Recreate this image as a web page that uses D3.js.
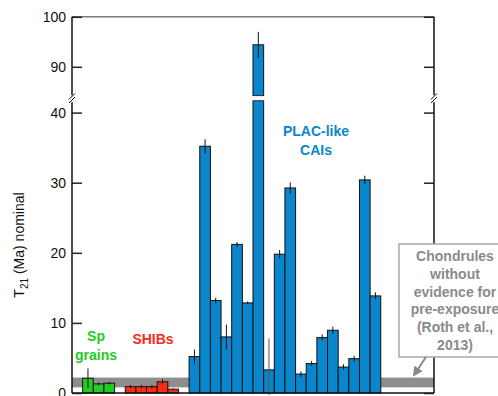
<!DOCTYPE html>
<html>
<head>
<meta charset="utf-8">
<script src="https://cdn.jsdelivr.net/npm/d3@7"></script>
<style>
  body { margin: 0; background: #fff; }
  text { font-family: "Liberation Sans", Arial, sans-serif; }
</style>
</head>
<body>
<svg id="chart" width="498" height="396"></svg>
<script>
// Data
const spValues = [2.1, 1.3, 1.4];
const spErrors = [1.4, 0.2, 0.2];
const shibValues = [0.9, 0.9, 0.9, 1.6, 0.55];
const shibErrors = [0.25, 0.25, 0.25, 0.35, 0.1];
const placValues = [5.2, 35.2, 13.2, 8.0, 21.2, 12.85, 94.4, 3.3, 19.8, 29.25, 2.7, 4.2, 7.9, 8.95, 3.7, 4.9, 30.4, 13.85];
const placErrors = [1.0, 1.0, 0.4, 1.75, 0.35, 0.2, 2.6, 4.5, 0.6, 0.8, 0.4, 0.35, 0.45, 0.5, 0.4, 0.4, 0.6, 0.5];
const chondruleBand = [0.8, 2.2];
const lowTicks = [0, 10, 20, 30, 40];
const highTicks = [90, 100];

const colors = { sp: "#22cc22", shib: "#ff2a14", plac: "#0a86cc" };

// build slots (empty slots make the gaps between groups)
const slots = [];
let gap = 0;
const addGap = () => slots.push({ id: "gap" + (gap++), value: null });
addGap();
spValues.forEach((v, i) => slots.push({ id: "sp" + i, value: v, err: spErrors[i], color: colors.sp }));
addGap();
shibValues.forEach((v, i) => slots.push({ id: "shib" + i, value: v, err: shibErrors[i], color: colors.shib }));
addGap();
placValues.forEach((v, i) => slots.push({ id: "plac" + i, value: v, err: placErrors[i], color: colors.plac }));
for (let i = 0; i < 5; i++) addGap();

const bars = slots.filter(d => d.value !== null);

const left = 72, right = 434;
const loMax = 41.7, hiMin = 84.2;

const x = d3.scaleBand()
  .domain(slots.map(d => d.id))
  .range([left, right])
  .padding(0);

const yLo = d3.scaleLinear().domain([0, 40]).range([393, 112.6]);
const yHi = d3.scaleLinear().domain([90, 100]).range([66.8, 16.8]);

const svg = d3.select("#chart");

// chondrule band behind the bars
svg.append("rect")
  .attr("x", left)
  .attr("y", yLo(chondruleBand[1]))
  .attr("width", right - left)
  .attr("height", yLo(chondruleBand[0]) - yLo(chondruleBand[1]))
  .attr("fill", "#8e8e8e");

// bars - lower segment
svg.selectAll(".bar-lo")
  .data(bars)
  .enter()
  .append("rect")
  .attr("class", "bar-lo")
  .attr("x", d => x(d.id))
  .attr("y", d => yLo(Math.min(d.value, loMax)))
  .attr("width", x.bandwidth())
  .attr("height", d => yLo(0) - yLo(Math.min(d.value, loMax)))
  .attr("fill", d => d.color)
  .attr("stroke", "#111")
  .attr("stroke-width", 1);

// bars - upper segment (only the tall one)
const tall = bars.filter(d => d.value > hiMin);
svg.selectAll(".bar-hi")
  .data(tall)
  .enter()
  .append("rect")
  .attr("class", "bar-hi")
  .attr("x", d => x(d.id))
  .attr("y", d => yHi(d.value))
  .attr("width", x.bandwidth())
  .attr("height", d => yHi(hiMin) - yHi(d.value))
  .attr("fill", d => d.color)
  .attr("stroke", "#111")
  .attr("stroke-width", 1);
// hide the stroke across the break
svg.selectAll(".bar-gap")
  .data(tall)
  .enter()
  .append("rect")
  .attr("x", d => x(d.id) - 1)
  .attr("y", yHi(hiMin) + 0.5)
  .attr("width", x.bandwidth() + 2)
  .attr("height", yLo(loMax) - yHi(hiMin) - 1)
  .attr("fill", "#fff");

// error bars
const yOf = v => v > hiMin ? yHi(v) : yLo(Math.max(v, 0));
svg.selectAll(".err")
  .data(bars)
  .enter()
  .append("line")
  .attr("class", "err")
  .attr("x1", d => x(d.id) + x.bandwidth() / 2)
  .attr("x2", d => x(d.id) + x.bandwidth() / 2)
  .attr("y1", d => yOf(d.value + d.err))
  .attr("y2", d => yOf(d.value - d.err) + (d.value - d.err < 0 ? 2 : 0))
  .attr("stroke", d => d.err > 3 ? "#555" : "#111")
  .attr("stroke-width", 1);

// frame: top line
svg.append("line")
  .attr("x1", left).attr("x2", right)
  .attr("y1", yHi(100)).attr("y2", yHi(100))
  .attr("stroke", "#7a7a7a").attr("stroke-width", 1.5);
// bottom line
svg.append("line")
  .attr("x1", left).attr("x2", right)
  .attr("y1", yLo(0)).attr("y2", yLo(0))
  .attr("stroke", "#111").attr("stroke-width", 1.5);

// left & right axes (ticks pointing inward)
function drawAxis(xPos, isLeft) {
  const gLo = svg.append("g").attr("transform", `translate(${xPos},0)`);
  const gHi = svg.append("g").attr("transform", `translate(${xPos},0)`);
  const mk = isLeft ? d3.axisLeft : d3.axisRight;
  gLo.call(mk(yLo).tickValues(lowTicks).tickSize(-10).tickPadding(6)
    .tickFormat(isLeft ? d3.format("d") : () => ""));
  gHi.call(mk(yHi).tickValues(highTicks).tickSize(-10).tickPadding(6)
    .tickFormat(isLeft ? d3.format("d") : () => ""));
  [gLo, gHi].forEach(g => {
    g.select(".domain").remove();
    g.selectAll(".tick line").attr("stroke", "#222").attr("stroke-width", 1.5);
    g.selectAll(".tick text")
      .attr("font-size", "14px")
      .attr("font-family", "'Liberation Sans', Arial, sans-serif")
      .attr("fill", "#111");
  });
  // axis line in two pieces around the break
  svg.append("line")
    .attr("x1", xPos).attr("x2", xPos)
    .attr("y1", yHi(100)).attr("y2", yHi(hiMin) - 0.5)
    .attr("stroke", "#111").attr("stroke-width", 1.5);
  svg.append("line")
    .attr("x1", xPos).attr("x2", xPos)
    .attr("y1", yLo(loMax) + 1.5).attr("y2", yLo(0))
    .attr("stroke", "#111").attr("stroke-width", 1.5);
  // break marks //
  const yb = (yHi(hiMin) + yLo(loMax)) / 2;
  [-1.8, 1.8].forEach(off => {
    svg.append("line")
      .attr("x1", xPos - 3).attr("x2", xPos + 3)
      .attr("y1", yb + off + 3).attr("y2", yb + off - 3)
      .attr("stroke", "#111").attr("stroke-width", 1);
  });
}
drawAxis(left, true);

// annotation box (drawn before right axis lower part is covered)
drawAxis(right, false);

const boxX = 399, boxY = 244;
svg.append("rect")
  .attr("x", boxX).attr("y", boxY)
  .attr("width", 120).attr("height", 113)
  .attr("fill", "#fff")
  .attr("stroke", "#a8a8a8").attr("stroke-width", 1.5);

const noteLines = ["Chondrules", "without", "evidence for", "pre-exposure", "(Roth et al.,", "2013)"];
svg.append("g").selectAll("text")
  .data(noteLines)
  .enter()
  .append("text")
  .attr("x", 455)
  .attr("y", (d, i) => 261 + i * 17.8)
  .attr("text-anchor", "middle")
  .attr("font-size", "14px")
  .attr("font-weight", "bold")
  .attr("fill", "#8a8a8a")
  .text(d => d);

// arrow from box to band
svg.append("defs").append("marker")
  .attr("id", "arrow")
  .attr("viewBox", "0 0 10 10")
  .attr("refX", 8).attr("refY", 5)
  .attr("markerWidth", 5).attr("markerHeight", 5)
  .attr("orient", "auto")
  .append("path")
  .attr("d", "M0,0 L10,5 L0,10 z")
  .attr("fill", "#8a8a8a");
svg.append("line")
  .attr("x1", 426).attr("y1", 357)
  .attr("x2", 414).attr("y2", 375)
  .attr("stroke", "#8a8a8a").attr("stroke-width", 2)
  .attr("marker-end", "url(#arrow)");

// group labels
function label(lines, cx, cy, color) {
  svg.append("g").selectAll("text")
    .data(lines)
    .enter()
    .append("text")
    .attr("x", cx)
    .attr("y", (d, i) => cy + i * 19)
    .attr("text-anchor", "middle")
    .attr("dominant-baseline", "central")
    .attr("font-size", "14px")
    .attr("font-weight", "bold")
    .attr("fill", color)
    .text(d => d);
}
label(["PLAC-like", "CAIs"], 316, 131, colors.plac);
label(["Sp", "grains"], 96, 336, colors.sp);
label(["SHIBs"], 153, 339, colors.shib);

// y axis title
const yTitle = svg.append("text")
  .attr("transform", "translate(24,245) rotate(-90)")
  .attr("text-anchor", "middle")
  .attr("font-size", "14px")
  .attr("fill", "#111");
yTitle.append("tspan").text("T");
yTitle.append("tspan").attr("font-size", "10px").attr("dy", 4).text("21");
yTitle.append("tspan").attr("dy", -4).text(" (Ma) nominal");
</script>
</body>
</html>
